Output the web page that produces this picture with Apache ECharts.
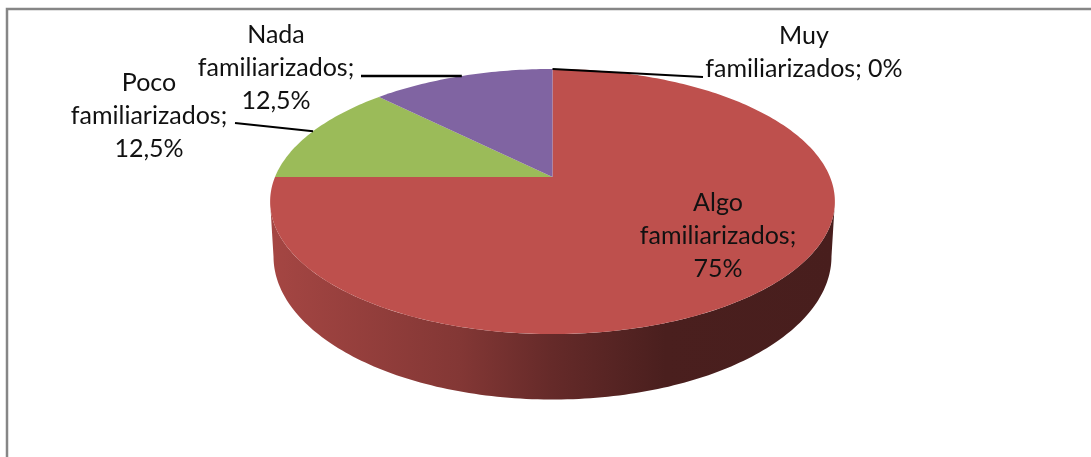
<!DOCTYPE html>
<html>
<head>
<meta charset="utf-8">
<style>html,body{margin:0;padding:0;background:#fff}#c{width:1091px;height:457px}</style>
<script src="https://cdn.jsdelivr.net/npm/echarts@6/dist/echarts.min.js"></script>
</head>
<body>
<div id="c"></div>
<script>
// Data, clockwise from 12 o'clock
const categories = ['Muy familiarizados', 'Algo familiarizados', 'Poco familiarizados', 'Nada familiarizados'];
const values = [0, 75, 12.5, 12.5];
const labelTexts = [
  'Muy\nfamiliarizados; 0%',
  'Algo\nfamiliarizados;\n75%',
  'Poco\nfamiliarizados;\n12,5%',
  'Nada\nfamiliarizados;\n12,5%'
];
const sliceColors = ['#4F81BD', '#BE504D', '#9BBB59', '#8064A2'];

// Appearance and layout
const labelCentres = [[804, 52], [718, 236], [149, 116], [276, 68]];
const leaderEnds = [[703, 77], null, [235, 123], [361, 76]];
const leaderWidths = [2, 0, 2, 2.6];
const wallShades = [[0, 0.87], [0.336, 0.69], [0.5, 0.53], [0.7, 0.39], [1, 0.38]];
const view = {
  cx: 552.5, cy: 177, A: 277.5, B: 128, k: 0.185,
  rimCy: 201.5, rimRy: 132.5,
  wallScale: 0.988, wallCy: 256.5, wallRy: 143
};

const total = values.reduce((a, b) => a + b, 0);
function project(deg) {
  const r = deg * Math.PI / 180, u = Math.sin(r), v = Math.cos(r), w = 1 + view.k * v;
  return [view.cx + view.A * u / w, view.cy - view.B * v / w];
}
function lower(p) {
  return [view.cx + (p[0] - view.cx) * view.wallScale,
          view.wallCy + view.wallRy * (p[1] - view.rimCy) / view.rimRy];
}
function arc(a0, a1) {
  const pts = [], n = Math.max(1, Math.ceil(Math.abs(a1 - a0)));
  for (let i = 0; i <= n; i++) pts.push(project(a0 + (a1 - a0) * i / n));
  return pts;
}
function shade(hex, f) {
  const n = parseInt(hex.slice(1), 16);
  return 'rgb(' + [n >> 16, (n >> 8) & 255, n & 255].map(c => Math.round(c * f)).join(',') + ')';
}

function renderItem(params, api) {
  const i = params.dataIndex, val = api.value(0);
  const start = values.slice(0, i).reduce((a, b) => a + b, 0) / total * 360;
  const end = start + val / total * 360;
  const mid = (start + end) / 2;
  const children = [];
  const color = sliceColors[i];

  // side wall: only the part of the rim facing the viewer
  const silhouette = Math.acos(-view.k) * 180 / Math.PI;
  const w0 = Math.max(start, silhouette), w1 = Math.min(end, 360 - silhouette);
  if (w1 > w0) {
    const rim = arc(w0, w1);
    const pts = rim.concat(rim.map(lower).reverse());
    children.push({
      type: 'polygon', z2: 1, shape: { points: pts },
      style: { fill: new echarts.graphic.LinearGradient(0, 0, 1, 0,
        wallShades.map(s => ({ offset: s[0], color: shade(color, s[1]) }))) }
    });
  }
  // top face
  if (end > start) {
    children.push({
      type: 'polygon', z2: 2,
      shape: { points: [[view.cx, view.cy]].concat(arc(start, end)) },
      style: { fill: color }
    });
  }
  // leader line
  if (leaderEnds[i]) {
    children.push({
      type: 'line', z2: 5,
      shape: { x1: project(mid)[0], y1: project(mid)[1], x2: leaderEnds[i][0], y2: leaderEnds[i][1] },
      style: { stroke: '#000', lineWidth: leaderWidths[i] }
    });
  }
  // label
  children.push({
    type: 'text', z2: 6,
    style: {
      text: labelTexts[i], x: labelCentres[i][0], y: labelCentres[i][1],
      align: 'center', verticalAlign: 'middle',
      fontFamily: 'Lato', fontSize: 25, lineHeight: 33, fill: '#111'
    }
  });
  return { type: 'group', children };
}

const chart = echarts.init(document.getElementById('c'), null, { renderer: 'canvas' });
chart.setOption({
  animation: false,
  backgroundColor: '#fff',
  graphic: [{
    type: 'rect', z: -1, silent: true,
    shape: { x: 7, y: 9, width: 1200, height: 700 },
    style: { fill: 'none', stroke: '#868686', lineWidth: 2.5 }
  }],
  series: [{
    type: 'custom',
    coordinateSystem: 'none',
    clip: false,
    silent: true,
    data: categories.map((name, i) => ({ name, value: [values[i]] })),
    renderItem
  }]
});
</script>
</body>
</html>
